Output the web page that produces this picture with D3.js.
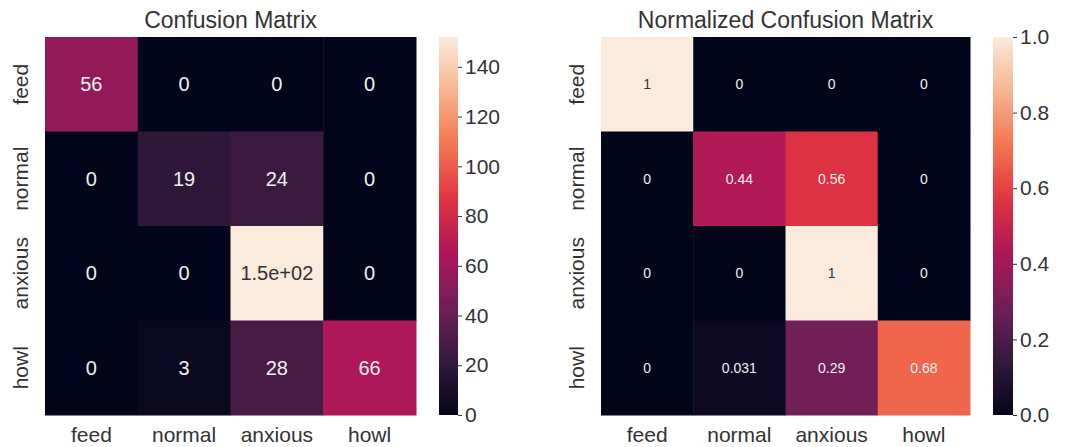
<!DOCTYPE html>
<html>
<head>
<meta charset="UTF-8">
<title>Confusion Matrix</title>
<script src="https://cdn.jsdelivr.net/npm/d3@7"></script>
<style type="text/css">
	body {
		margin:0;
		background-color:white;
	}
	text {
		font-family: "Liberation Sans", Arial, sans-serif;
		fill: #333;
	}
</style>
</head>
<body>
<script type="text/javascript">

// data
var classes = ['feed', 'normal', 'anxious', 'howl'];
var counts = [
	[56, 0, 0, 0],
	[0, 19, 24, 0],
	[0, 0, 152, 0],
	[0, 3, 28, 66]
];
var normalized = [
	[1, 0, 0, 0],
	[0, 0.44, 0.56, 0],
	[0, 0, 1, 0],
	[0, 0.031, 0.29, 0.68]
];
var countTicks = [0, 20, 40, 60, 80, 100, 120, 140];
var normTicks = [0, 0.2, 0.4, 0.6, 0.8, 1.0];

// rocket colormap (seaborn) as piecewise stops
var rocketStops = ['#03051a', '#35193e', '#701f57', '#ad1759', '#e13342', '#f37651', '#f6b48f', '#faebdd'];
var rocket = d3.scaleLinear()
	.domain(d3.range(rocketStops.length).map(function(i){ return i/(rocketStops.length-1); }))
	.range(rocketStops)
	.interpolate(d3.interpolateRgb);

var large = 1073, haut = 447;

var svg = d3.select('body').append('svg')
	.attr('width', large)
	.attr('height', haut);

svg.append('rect')
	.attr('width', large)
	.attr('height', haut)
	.attr('fill', 'white');

// python style %.2g
var fmt = function(v){
	var s = d3.format('.2~g')(v);
	return s.replace(/e([+-])(\d)$/, 'e$10$2');
};

function lum(c){
	var rgb = d3.rgb(c);
	var f = function(v){ v = v/255; return v <= 0.03928 ? v/12.92 : Math.pow((v+0.055)/1.055, 2.4); };
	return 0.2126*f(rgb.r) + 0.7152*f(rgb.g) + 0.0722*f(rgb.b);
}

function heatmap(opt){
	var g = svg.append('g');
	var x = d3.scaleBand().domain(classes).range([opt.x0, opt.x1]);
	var y = d3.scaleBand().domain(classes).range([opt.y0, opt.y1]);
	var c = d3.scaleLinear().domain([0, opt.vmax]).range([0, 1]);

	var cells = [];
	opt.data.forEach(function(row, i){
		row.forEach(function(v, j){
			cells.push({r: classes[i], c: classes[j], v: v});
		});
	});

	g.selectAll('.cell')
		.data(cells).enter().append('rect')
		.attr('class', 'cell')
		.attr('x', function(d){ return x(d.c); })
		.attr('y', function(d){ return y(d.r); })
		.attr('width', x.bandwidth() + 0.5)
		.attr('height', y.bandwidth() + 0.5)
		.attr('fill', function(d){ return rocket(c(d.v)); });

	g.selectAll('.annot')
		.data(cells).enter().append('text')
		.attr('class', 'annot')
		.attr('x', function(d){ return x(d.c) + x.bandwidth()/2; })
		.attr('y', function(d){ return y(d.r) + y.bandwidth()/2; })
		.attr('text-anchor', 'middle')
		.attr('dominant-baseline', 'central')
		.style('font-size', opt.annotSize + 'px')
		.style('fill', function(d){ return lum(rocket(c(d.v))) > 0.408 ? '#333' : '#f0f0f0'; })
		.text(function(d){ return fmt(d.v); });

	// title
	g.append('text')
		.attr('x', (opt.x0 + opt.x1)/2)
		.attr('y', opt.y0 - 9)
		.attr('text-anchor', 'middle')
		.style('font-size', '23px')
		.text(opt.title);

	// x labels
	g.selectAll('.xl')
		.data(classes).enter().append('text')
		.attr('x', function(d){ return x(d) + x.bandwidth()/2; })
		.attr('y', opt.y1 + 27)
		.attr('text-anchor', 'middle')
		.style('font-size', '21px')
		.text(function(d){ return d; });

	// y labels
	g.selectAll('.yl')
		.data(classes).enter().append('text')
		.attr('transform', function(d){
			return 'translate(' + (opt.x0 - 17) + ',' + (y(d) + y.bandwidth()/2) + ') rotate(-90)';
		})
		.attr('text-anchor', 'middle')
		.style('font-size', '21px')
		.text(function(d){ return d; });

	// colorbar
	var gid = 'grad' + opt.id;
	var grad = svg.append('defs').append('linearGradient')
		.attr('id', gid)
		.attr('x1', 0).attr('y1', 1).attr('x2', 0).attr('y2', 0);
	d3.range(0, 1.0001, 0.02).forEach(function(t){
		grad.append('stop').attr('offset', t).attr('stop-color', rocket(t));
	});
	g.append('rect')
		.attr('x', opt.cb0)
		.attr('y', opt.y0)
		.attr('width', opt.cbW)
		.attr('height', opt.y1 - opt.y0)
		.attr('fill', 'url(#' + gid + ')');

	var cy = d3.scaleLinear().domain([0, opt.vmax]).range([opt.y1, opt.y0]);
	var ax = g.append('g')
		.attr('transform', 'translate(' + (opt.cb0 + opt.cbW) + ',0)')
		.call(d3.axisRight(cy).tickValues(opt.ticks).tickFormat(opt.tickFmt).tickSize(4).tickPadding(3));
	ax.select('.domain').remove();
	ax.selectAll('line').attr('stroke', '#333');
	ax.selectAll('text')
		.style('font-size', '21px')
		.style('font-family', '"Liberation Sans", Arial, sans-serif')
		.attr('fill', '#333');
}

heatmap({
	id: 0,
	title: 'Confusion Matrix',
	data: counts,
	vmax: 152,
	x0: 45, x1: 416, y0: 37, y1: 415,
	cb0: 439, cbW: 19,
	ticks: countTicks,
	tickFmt: d3.format('d'),
	annotSize: 20
});

heatmap({
	id: 1,
	title: 'Normalized Confusion Matrix',
	data: normalized,
	vmax: 1,
	x0: 601, x1: 970, y0: 37, y1: 415,
	cb0: 993, cbW: 20,
	ticks: normTicks,
	tickFmt: d3.format('.1f'),
	annotSize: 14
});

</script>
</body>
</html>
